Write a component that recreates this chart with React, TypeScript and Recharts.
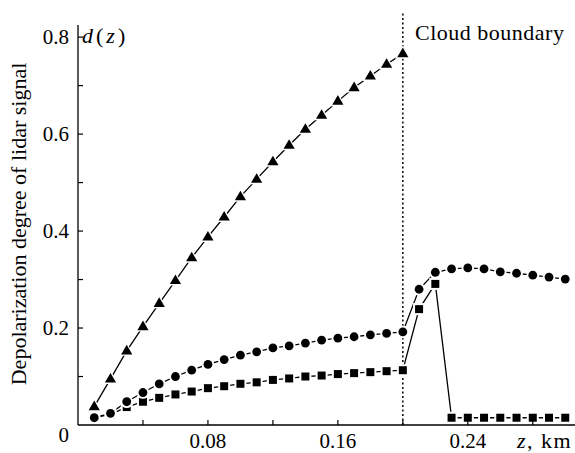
import { LineChart, Line, XAxis, YAxis, ReferenceLine } from "recharts";

// altitude z, km
const zValues = [
  0.01, 0.02, 0.03, 0.04, 0.05, 0.06, 0.07, 0.08, 0.09, 0.1,
  0.11, 0.12, 0.13, 0.14, 0.15, 0.16, 0.17, 0.18, 0.19, 0.2,
  0.21, 0.22, 0.23, 0.24, 0.25, 0.26, 0.27, 0.28, 0.29, 0.3,
];

// triangles stop at the cloud boundary
const triangleSeries = [
  0.038, 0.095, 0.153, 0.203, 0.251, 0.298, 0.345, 0.388, 0.429, 0.471,
  0.507, 0.543, 0.577, 0.61, 0.639, 0.668, 0.696, 0.72, 0.744, 0.766,
];

const circleSeries = [
  0.015, 0.024, 0.048, 0.067, 0.085, 0.1, 0.113, 0.125, 0.135, 0.144,
  0.151, 0.159, 0.163, 0.169, 0.175, 0.179, 0.182, 0.186, 0.189, 0.192,
  0.28, 0.315, 0.322, 0.324, 0.322, 0.316, 0.313, 0.309, 0.305, 0.301,
];

const squareSeries = [
  0.015, 0.022, 0.037, 0.048, 0.056, 0.063, 0.069, 0.076, 0.08, 0.085,
  0.088, 0.093, 0.096, 0.1, 0.102, 0.105, 0.107, 0.109, 0.111, 0.113,
  0.239, 0.291, 0.015, 0.015, 0.015, 0.015, 0.015, 0.015, 0.015, 0.015,
];

const xTicks = [0.04, 0.08, 0.12, 0.16, 0.2, 0.24, 0.28];
const xTickLabels = ["", "0.08", "", "0.16", "", "0.24", ""];
const yTicks = [0, 0.1, 0.2, 0.3, 0.4, 0.5, 0.6, 0.7, 0.8];
const yTickLabels = ["0", "", "0.2", "", "0.4", "", "0.6", "", "0.8"];
const cloudBoundary = 0.2;

const data = zValues.map((z, i) => ({
  z,
  tri: triangleSeries[i],
  circ: circleSeries[i],
  sq: squareSeries[i],
}));

const txt = {
  fontFamily: '"Times New Roman", "Liberation Serif", "DejaVu Serif", serif',
  fill: "#000",
};

const XTick = ({ x, y, payload }: any) => {
  const label = xTickLabels[xTicks.indexOf(payload.value)];
  return (
    <g>
      <line x1={x} x2={x} y1={y} y2={y - 5} stroke="#000" strokeWidth={1.2} />
      {label && (
        <text x={x} y={y + 23} textAnchor="middle" fontSize={21} style={txt}>
          {label}
        </text>
      )}
    </g>
  );
};

const YTick = ({ x, y, payload }: any) => {
  const label = yTickLabels[yTicks.indexOf(payload.value)];
  const isZero = payload.value === 0;
  return (
    <g>
      {!isZero && <line x1={x} x2={x + 5} y1={y} y2={y} stroke="#000" strokeWidth={1.2} />}
      {label && (
        <text x={x - 9} y={isZero ? y + 17 : y + 7} textAnchor="end" fontSize={21} style={txt}>
          {label}
        </text>
      )}
    </g>
  );
};

// black marker with a white halo, so the line breaks around it
const makeDot = (shape: "tri" | "circ" | "sq") => (props: any) => {
  const { cx, cy, key } = props;
  if (cx == null || cy == null || props.value == null) return <g key={key} />;
  if (shape === "circ") {
    return (
      <g key={key}>
        <circle cx={cx} cy={cy} r={6.3} fill="#fff" />
        <circle cx={cx} cy={cy} r={4.4} fill="#000" />
      </g>
    );
  }
  if (shape === "sq") {
    return (
      <g key={key}>
        <rect x={cx - 6} y={cy - 6} width={12} height={12} fill="#fff" />
        <rect x={cx - 4} y={cy - 4} width={8} height={8} fill="#000" />
      </g>
    );
  }
  const tri = (s: number) =>
    `M${cx},${cy - 6 * s} L${cx + 5.6 * s},${cy + 3.6 * s} L${cx - 5.6 * s},${cy + 3.6 * s} Z`;
  return (
    <g key={key}>
      <path d={tri(1.4)} fill="#fff" />
      <path d={tri(1)} fill="#000" />
    </g>
  );
};

export default function App() {
  return (
    <div style={{ position: "absolute", left: 0, top: 0, background: "#fff" }}>
      <LineChart
        width={575}
        height={453}
        data={data}
        margin={{ top: 25, right: 0, bottom: 0, left: 0 }}
      >
        <XAxis
          dataKey="z"
          type="number"
          domain={[0, 0.306]}
          ticks={xTicks}
          allowDataOverflow
          height={28}
          tickSize={0}
          tickMargin={0}
          tickLine={false}
          tick={<XTick />}
          axisLine={{ stroke: "#000", strokeWidth: 1.3 }}
        />
        <YAxis
          type="number"
          domain={[0, 0.825]}
          ticks={yTicks}
          allowDataOverflow
          width={78}
          tickSize={0}
          tickMargin={0}
          tickLine={false}
          tick={<YTick />}
          axisLine={{ stroke: "#000", strokeWidth: 1.3 }}
        />
        <ReferenceLine
          segment={[
            { x: cloudBoundary, y: 0 },
            { x: cloudBoundary, y: 0.85 },
          ]}
          ifOverflow="visible"
          stroke="#000"
          strokeWidth={1.5}
          strokeDasharray="2 2.5"
        />
        <Line
          dataKey="sq"
          stroke="#000"
          strokeWidth={1.3}
          dot={makeDot("sq")}
          activeDot={false}
          isAnimationActive={false}
        />
        <Line
          dataKey="circ"
          stroke="#000"
          strokeWidth={1.3}
          dot={makeDot("circ")}
          activeDot={false}
          isAnimationActive={false}
        />
        <Line
          dataKey="tri"
          stroke="#000"
          strokeWidth={1.3}
          dot={makeDot("tri")}
          activeDot={false}
          isAnimationActive={false}
        />
        <text
          x={18.5}
          y={224}
          transform="rotate(-90 18.5 224)"
          textAnchor="middle"
          dominantBaseline="central"
          fontSize={22}
          style={txt}
        >
          Depolarization degree of lidar signal
        </text>
        <text x={82} y={43} fontSize={22} letterSpacing={3} style={txt}>
          <tspan fontStyle="italic">d</tspan>(<tspan fontStyle="italic">z</tspan>)
        </text>
        <text x={415} y={40} fontSize={22} letterSpacing={0.5} style={txt}>
          Cloud boundary
        </text>
        <text x={517} y={448} fontSize={22} letterSpacing={1.5} style={txt}>
          <tspan fontStyle="italic">z</tspan>, km
        </text>
      </LineChart>
    </div>
  );
}
